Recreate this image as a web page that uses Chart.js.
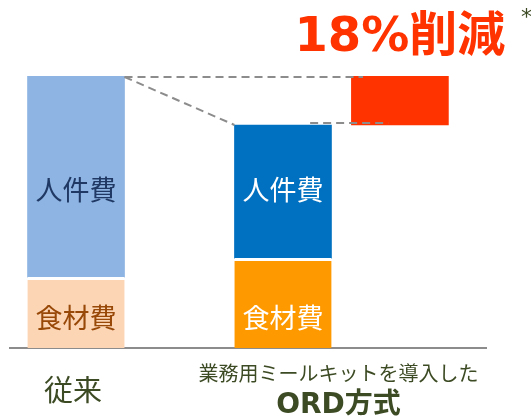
<!DOCTYPE html>
<html lang="ja">
<head>
<meta charset="utf-8">
<script src="https://cdn.jsdelivr.net/npm/chart.js@4"></script>
<style>
  html, body { margin: 0; padding: 0; background: #fff; }
</style>
</head>
<body>
<canvas id="myChart" width="531" height="418"></canvas>
<script>
// --- DATA ---
const categories = ['従来', ['業務用ミールキットを導入した', 'ORD方式']];
const segmentNames = ['食材費', '人件費'];
const foodCost = [26, 33];
const laborCost = [74, 49];
const reductionRange = [82, 100];
const reductionLabel = '18%削減';
const footnoteMark = '*';

// --- STYLE ---
const FONT = "'DejaVu Sans', 'Noto Sans CJK JP', sans-serif";
const TEXT_OLIVE = '#3d4b24';
const DASH_GRAY = '#8c8c8c';
const foodColors = ['#fcd5b5', '#ff9900'];
const laborColors = ['#8eb4e3', '#0070c0'];
const foodTextColors = ['#984807', '#ffffff'];
const laborTextColors = ['#1f3864', '#ffffff'];
const CUT_COLOR = '#ff3300';

// bar slots on the x scale: 従来 = 0, ORD = 1, reduction block sits next to ORD
const slotX = [0, 1];
const cutX = 1.565;

function pointsOf(values) {
    return values.map((v, i) => ({ x: slotX[i], y: v }));
}

function drawDash(ctx, x1, y1, x2, y2) {
    ctx.save();
    ctx.strokeStyle = DASH_GRAY;
    ctx.lineWidth = 2;
    ctx.setLineDash([8, 5]);
    ctx.beginPath();
    ctx.moveTo(x1, y1);
    ctx.lineTo(x2, y2);
    ctx.stroke();
    ctx.restore();
}

function text(ctx, str, x, y, font, color, align) {
    ctx.save();
    ctx.font = font;
    ctx.fillStyle = color;
    ctx.textAlign = align || 'center';
    ctx.textBaseline = 'middle';
    ctx.fillText(str, x, y);
    ctx.restore();
}

const overlayPlugin = {
    id: 'overlay',
    afterDatasetsDraw(chart) {
        const ctx = chart.ctx;
        const food = chart.getDatasetMeta(0).data;
        const labor = chart.getDatasetMeta(1).data;
        const cut = chart.getDatasetMeta(2).data[0];

        // segment labels, lined up at the centre of the shortest segment of each series
        [[food, foodTextColors], [labor, laborTextColors]].forEach(([bars, colors], d) => {
            let shortest = bars[0];
            bars.forEach(b => { if (b.base - b.y < shortest.base - shortest.y) shortest = b; });
            const cy = (shortest.y + shortest.base) / 2 + (d === 0 ? 8 : 1);
            bars.forEach((b, i) => text(ctx, segmentNames[d], b.x, cy, '27px ' + FONT, colors[i]));
        });

        // connector lines
        const top1 = labor[0];
        const top2 = labor[1];
        drawDash(ctx, top1.x + top1.width / 2, top1.y + 1, cut.x - cut.width * 0.38, top1.y + 1);
        drawDash(ctx, top1.x + top1.width / 2, top1.y + 1, top2.x - top2.width / 2, top2.y);
        drawDash(ctx, top2.x + top2.width * 0.28, top2.y - 2, cut.x - cut.width * 0.12, top2.y - 2);

        // reduction title above the red block
        text(ctx, reductionLabel, cut.x, cut.y - 37, 'bold 48px ' + FONT, CUT_COLOR);
        text(ctx, footnoteMark, chart.width - 10, 18, '22px ' + FONT, TEXT_OLIVE, 'left');
    },
    afterDraw(chart) {
        const ctx = chart.ctx;
        const food = chart.getDatasetMeta(0).data;
        const cut = chart.getDatasetMeta(2).data[0];
        const bottom = chart.chartArea.bottom;
        text(ctx, categories[0], food[0].x - 3, bottom + 45, '29px ' + FONT, TEXT_OLIVE);
        const cx = (food[1].x + cut.x) / 2 - 3;
        text(ctx, categories[1][0], cx, bottom + 28, '20px ' + FONT, TEXT_OLIVE);
        text(ctx, categories[1][1], cx, bottom + 58, 'bold 28px ' + FONT, TEXT_OLIVE);
    }
};

const ctx = document.getElementById('myChart').getContext('2d');
new Chart(ctx, {
    type: 'bar',
    data: {
        datasets: [
            {
                label: segmentNames[0],
                data: pointsOf(foodCost),
                backgroundColor: foodColors,
                borderColor: '#ffffff',
                borderWidth: { top: 3, left: 0, right: 0, bottom: 0 },
                borderSkipped: false
            },
            {
                label: segmentNames[1],
                data: pointsOf(laborCost),
                backgroundColor: laborColors,
                borderWidth: 0
            },
            {
                label: reductionLabel,
                data: [{ x: cutX, y: reductionRange }],
                backgroundColor: CUT_COLOR,
                borderWidth: 0
            }
        ]
    },
    options: {
        responsive: false,
        animation: false,
        barThickness: 97,
        layout: { padding: { left: 10, right: 45, top: 76, bottom: 0 } },
        plugins: { legend: { display: false }, tooltip: { enabled: false } },
        scales: {
            x: {
                type: 'linear',
                stacked: true,
                offset: false,
                min: -0.319,
                max: 1.981,
                grid: { display: false },
                ticks: { display: false },
                border: { display: true, color: DASH_GRAY, width: 2 },
                afterFit(scale) { scale.height = 70; }
            },
            y: {
                stacked: true,
                display: false,
                min: 0,
                max: 100
            }
        }
    },
    plugins: [overlayPlugin]
});
</script>
</body>
</html>
